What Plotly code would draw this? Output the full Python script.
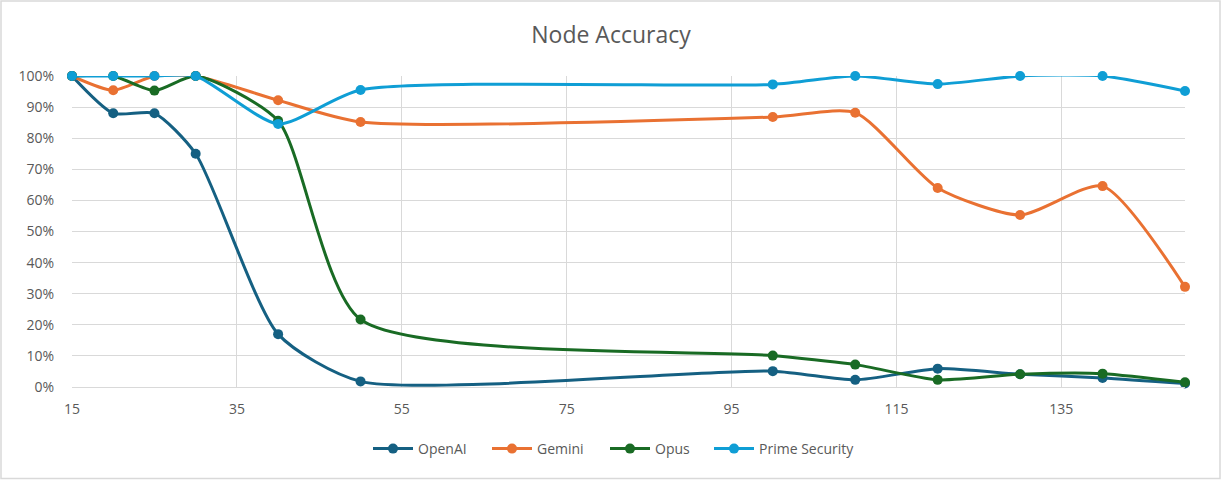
import plotly.graph_objects as go

x_nodes = [15, 20, 25, 30, 40, 50, 100, 110, 120, 130, 140, 150]
openai = [1.00, 0.88, 0.88, 0.75, 0.17, 0.018, 0.051, 0.023, 0.059, 0.041, 0.029, 0.011]
gemini = [1.00, 0.954, 1.00, 1.00, 0.922, 0.852, 0.868, 0.882, 0.640, 0.553, 0.646, 0.322]
opus = [1.00, 1.00, 0.953, 1.00, 0.856, 0.217, 0.101, 0.072, 0.023, 0.041, 0.043, 0.015]
prime = [1.00, 1.00, 1.00, 1.00, 0.846, 0.955, 0.973, 1.00, 0.974, 1.00, 1.00, 0.952]

series = [
    ("OpenAI", openai, "#156082"),
    ("Gemini", gemini, "#E97132"),
    ("Opus", opus, "#196B24"),
    ("Prime Security", prime, "#0F9ED5"),
]
legend_left_px = [370, 489, 607, 711]

FONT = "Open Sans"
TXT = "#595959"

L, R, T, B = 72, 37, 76, 93
W, H = 1222, 480
pw, ph = W - L - R, H - T - B

fig = go.Figure()
legends = {}
for i, (name, vals, col) in enumerate(series):
    lg = "legend" if i == 0 else f"legend{i + 1}"
    fig.add_trace(go.Scatter(
        x=x_nodes, y=vals, name=name, mode="lines+markers",
        line=dict(color=col, width=3, shape="spline", smoothing=0.65),
        marker=dict(color=col, size=10),
        cliponaxis=False, legend=lg,
    ))
    legends[lg] = dict(orientation="h", xref="container", yref="container",
                       x=(legend_left_px[i] - 2) / W, xanchor="left",
                       y=1 - 449 / H, yanchor="middle",
                       font=dict(size=14, color=TXT, family=FONT), itemwidth=40,
                       bgcolor="rgba(0,0,0,0)")

fig.update_layout(
    width=W, height=H,
    margin=dict(l=L, r=R, t=T, b=B),
    paper_bgcolor="white", plot_bgcolor="white",
    font=dict(family=FONT, color=TXT, size=14),
    title=dict(text="Node Accuracy", x=0.5, xref="container", xanchor="center",
               y=1 - 35 / H, yref="container", yanchor="middle",
               font=dict(size=23, color=TXT, family=FONT)),
    showlegend=True,
    xaxis=dict(range=[15, 150], tick0=15, dtick=20, showgrid=True,
               gridcolor="#D9D9D9", gridwidth=1.2, zeroline=False,
               showline=True, linecolor="#D9D9D9", linewidth=1.2,
               ticks="outside", ticklen=9, tickcolor="rgba(0,0,0,0)",
               tickfont=dict(size=14, color=TXT)),
    yaxis=dict(range=[0, 1], dtick=0.1, tickformat=".0%", showgrid=True,
               gridcolor="#D9D9D9", gridwidth=1.2, zeroline=False,
               showline=False,
               ticks="outside", ticklen=14, tickcolor="rgba(0,0,0,0)",
               tickfont=dict(size=14, color=TXT)),
    shapes=[dict(type="rect", xref="paper", yref="paper",
                 x0=(1 - L) / pw, x1=(W - 2 - L) / pw,
                 y0=(H - B - (H - 1.5)) / ph, y1=(H - B - 1) / ph,
                 line=dict(color="#D9D9D9", width=1.5), fillcolor="rgba(0,0,0,0)",
                 layer="below")],
    **legends,
)

fig.write_html("out.html", config={"displayModeBar": False},
               post_script="document.body.style.margin='0';document.body.style.overflow='hidden';")
